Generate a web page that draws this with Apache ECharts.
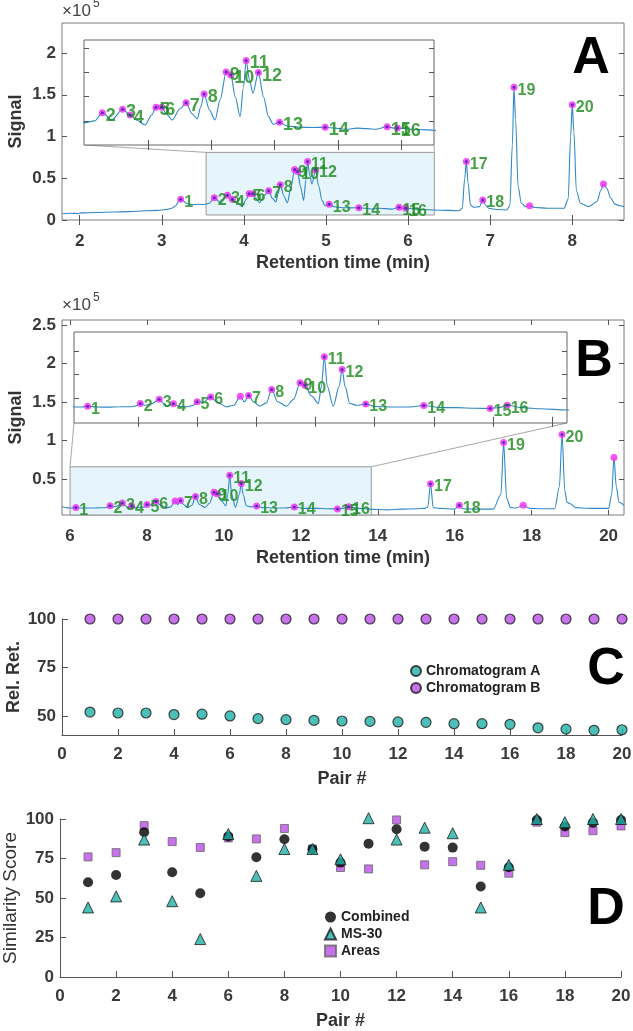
<!DOCTYPE html>
<html><head><meta charset="utf-8">
<script src="https://cdn.jsdelivr.net/npm/echarts@6/dist/echarts.min.js"></script>
<style>html,body{margin:0;padding:0;background:#fff}#c{width:633px;height:1031px}</style>
</head><body><div id="c"></div><script>
// ---------- DATA ----------
const timeA = [1.79,1.9,1.98,2.02,2.2,2.4,2.6,2.8,2.95,3.05,3.12,3.17,3.21,3.23,3.26,3.3,3.36,3.45,3.503,3.58,3.64,3.714,3.80,3.86,3.91,3.978,4.03,4.064,4.11,4.144,4.19,4.254,4.302,4.347,4.39,4.418,4.444,4.486,4.53,4.57,4.618,4.655,4.69,4.728,4.755,4.776,4.802,4.829,4.873,4.913,4.952,4.99,5.04,5.098,5.203,5.3,5.40,5.48,5.57,5.65,5.73,5.8,5.89,5.94,5.99,6.1,6.3,6.5,6.62,6.66,6.69,6.71,6.73,6.76,6.8,6.87,6.91,6.95,6.98,7.1,7.2,7.24,7.27,7.29,7.31,7.34,7.38,7.43,7.48,7.55,7.7,7.9,7.95,7.98,8.0,8.02,8.05,8.1,8.2,8.3,8.35,8.38,8.42,8.47,8.52,8.58,8.63];
const sigA = [0.075,0.08,0.078,0.085,0.09,0.095,0.10,0.11,0.115,0.125,0.14,0.17,0.23,0.25,0.23,0.2,0.185,0.188,0.185,0.2,0.268,0.207,0.296,0.249,0.207,0.166,0.249,0.313,0.313,0.26,0.207,0.30,0.351,0.26,0.216,0.32,0.423,0.29,0.207,0.373,0.604,0.58,0.40,0.235,0.48,0.70,0.54,0.43,0.60,0.40,0.235,0.172,0.188,0.158,0.147,0.145,0.147,0.14,0.13,0.14,0.136,0.13,0.152,0.14,0.14,0.13,0.12,0.115,0.11,0.14,0.5,0.70,0.45,0.18,0.15,0.16,0.24,0.17,0.14,0.125,0.12,0.17,0.9,1.59,1.2,0.4,0.2,0.16,0.17,0.15,0.14,0.14,0.25,1.0,1.38,1.05,0.35,0.2,0.16,0.22,0.36,0.43,0.38,0.26,0.19,0.17,0.16];
const peakNumA = [1,2,3,4,5,6,7,8,9,10,11,12,13,14,15,16,17,18,19,20];
const peakTimeA = [3.23,3.64,3.80,3.86,4.064,4.11,4.302,4.444,4.618,4.655,4.776,4.873,5.04,5.40,5.89,5.97,6.71,6.91,7.29,8.0];
const peakSigA = [0.25,0.268,0.296,0.249,0.313,0.313,0.351,0.423,0.604,0.58,0.70,0.60,0.188,0.147,0.152,0.14,0.70,0.24,1.59,1.38];
const extraTimeA = [7.48,8.38];
const extraSigA = [0.17,0.43];

const timeB = [5.79,5.94,6.05,6.15,6.3,6.5,6.7,6.9,6.97,7.04,7.12,7.22,7.36,7.45,7.49,7.6,7.7,7.85,7.93,8.0,8.1,8.23,8.33,8.5,8.62,8.73,8.8,8.87,8.95,9.06,9.17,9.26,9.36,9.51,9.63,9.74,9.82,9.93,10.05,10.1,10.15,10.2,10.3,10.4,10.45,10.5,10.58,10.7,10.85,11.0,11.3,11.6,11.83,12.1,12.4,12.7,12.95,13.1,13.24,13.5,13.8,14.24,14.6,15.0,15.22,15.3,15.37,15.44,15.6,16.0,16.12,16.2,16.6,17.0,17.2,17.27,17.35,17.45,17.6,17.78,17.95,18.3,18.6,18.72,18.79,18.86,18.92,19.0,19.14,19.5,20.0,20.08,20.14,20.2,20.27,20.4];
const sigB = [0.14,0.126,0.125,0.132,0.125,0.124,0.127,0.128,0.135,0.155,0.14,0.15,0.19,0.15,0.132,0.152,0.13,0.128,0.14,0.169,0.165,0.21,0.169,0.126,0.14,0.217,0.169,0.223,0.17,0.132,0.16,0.274,0.17,0.132,0.19,0.33,0.31,0.22,0.155,0.3,0.55,0.3,0.132,0.3,0.443,0.3,0.155,0.14,0.15,0.13,0.125,0.125,0.138,0.12,0.12,0.115,0.113,0.12,0.14,0.12,0.11,0.1,0.11,0.115,0.12,0.14,0.44,0.13,0.12,0.11,0.16,0.115,0.11,0.11,0.3,0.975,0.25,0.13,0.125,0.16,0.12,0.115,0.115,0.4,1.08,0.35,0.2,0.18,0.13,0.12,0.12,0.3,0.78,0.4,0.2,0.16];
const peakNumB = [1,2,3,4,5,6,7,8,9,10,11,12,13,14,15,16,17,18,19,20];
const peakTimeB = [6.15,7.04,7.36,7.6,8.0,8.23,8.87,9.26,9.74,9.82,10.15,10.45,10.85,11.83,12.95,13.24,15.37,16.12,17.27,18.79];
const peakSigB = [0.132,0.155,0.19,0.152,0.169,0.21,0.223,0.274,0.33,0.31,0.55,0.443,0.15,0.138,0.113,0.14,0.44,0.16,0.975,1.08];
const extraTimeB = [8.73,17.78,20.14];
const extraSigB = [0.217,0.16,0.78];

const pairs = [1,2,3,4,5,6,7,8,9,10,11,12,13,14,15,16,17,18,19,20];
const relRetA = [52.2,51.7,51.7,50.9,51.1,50.2,48.8,48.3,47.9,47.6,47.4,47.1,46.9,46.2,46.2,45.9,44.1,43.4,42.8,43.1];
const relRetB = [100,100,100,100,100,100,100,100,100,100,100,100,100,100,100,100,100,100,100,100];
const combined = [60,64.6,91.6,66.3,53,89,75.8,87.2,80.8,72.4,84.4,93.5,82.5,81.9,57.3,69.5,99.4,95.2,97.7,99.4];
const ms30 = [44,51,87,48,24,90.5,64,81,81,74.5,100.5,87,94.5,91,44,71,100,98,100,100];
const areas = [76,78.7,95.8,85.7,82,88,87.4,94,81,69.3,68.4,99.4,71,73,70.7,65.7,98,91.4,92.6,95.6];

const tickAx = [2,3,4,5,6,7,8];
const tickAy = [0,0.5,1,1.5,2];
const tickBx = [6,8,10,12,14,16,18,20];
const tickBy = [0.5,1,1.5,2,2.5];
const tickInAx = [4,4.5,5,5.5,6];
const tickInAy = [0.2,0.4,0.6,0.8];
const tickInBx = [7,8,9,10,11,12,13,14];
const tickInBy = [0.2,0.4,0.6];
const tickRel = [50,75,100];

const rangeAx = [1.785,8.63], rangeAy = [0,2.36];
const inAx = [3.495,6.26], inAy = [0,0.87];
const rectA = [3.54,0.06,6.32,0.81];
const rangeBx = [5.79,20.4], rangeBy = [0.034,2.565];
const inBx = [5.92,14.25], inBy = [-0.01,0.76];
const rectB = [6.0,0.034,13.83,0.66];

// ---------- STYLE ----------
const FONT = '"Liberation Sans", Arial, sans-serif';
const TICKC = '#3a3a3a';
const GREEN = '#1a8a1a';
const CURVE = '#3088c8';
const MAG = '#f02cf0';
const INNER = '#4020b0';

function pts(x, y) { return x.map((t, i) => [t, y[i]]); }
function lbl(num, x, y) { return x.map((t, i) => ({ value: [t, y[i]], name: String(num[i]) })); }

function xAx(grid, r, ticks, o) {
  return Object.assign({
    type: 'value', gridIndex: grid, min: r[0], max: r[1], position: 'bottom', nameMoveOverlap: false,
    axisLine: { show: false }, splitLine: { show: false },
    axisTick: { show: true, inside: true, length: 5, customValues: ticks, lineStyle: { color: '#555' } },
    axisLabel: { show: false, customValues: ticks }
  }, o || {});
}
function yAx(grid, r, ticks, o) {
  return Object.assign({
    type: 'value', gridIndex: grid, min: r[0], max: r[1], position: 'left', nameMoveOverlap: false,
    axisLine: { show: false }, splitLine: { show: false },
    axisTick: { show: true, inside: true, length: 5, customValues: ticks, lineStyle: { color: '#555' } },
    axisLabel: { show: false, customValues: ticks }
  }, o || {});
}
const tickLab = (ticks, margin) => {
  const o = { show: true, margin: margin, fontSize: 17, fontWeight: 'bold', color: TICKC, fontFamily: FONT };
  if (ticks) o.customValues = ticks;
  return o;
};
const nameStyle = { fontSize: 18, fontWeight: 'bold', color: '#333', fontFamily: FONT };

const G = { show: true, borderColor: '#7a7a7a', borderWidth: 1, backgroundColor: '#fff', containLabel: false, outerBoundsMode: 'none' };
const NB = { containLabel: false, outerBoundsMode: 'none' };
const grids = [
  Object.assign({ left: 62, width: 562, top: 23, height: 197 }, G),
  Object.assign({ left: 84, width: 350, top: 40, height: 105, z: 5 }, G, { borderColor: '#666' }),
  Object.assign({ left: 62, width: 562, top: 320, height: 195 }, G),
  Object.assign({ left: 74, width: 493, top: 332, height: 91, z: 5 }, G, { borderColor: '#666' }),
  Object.assign({ left: 62, width: 560, top: 619, height: 116 }, NB),
  Object.assign({ left: 60, width: 561, top: 819, height: 158 }, NB)
];

const xAxes = [
  xAx(0, rangeAx, tickAx, { axisLabel: tickLab(tickAx, 13), name: 'Retention time (min)', nameLocation: 'middle', nameGap: 34, nameTextStyle: nameStyle }),
  xAx(0, rangeAx, tickAx, { position: 'top' }),
  xAx(1, inAx, tickInAx, { z: 6 }),
  xAx(1, inAx, tickInAx, { position: 'top', z: 6 }),
  xAx(2, rangeBx, tickBx, { axisLabel: tickLab(tickBx, 13), name: 'Retention time (min)', nameLocation: 'middle', nameGap: 34, nameTextStyle: nameStyle }),
  xAx(2, rangeBx, tickBx, { position: 'top' }),
  xAx(3, inBx, tickInBx, { z: 6 }),
  xAx(3, inBx, tickInBx, { position: 'top', z: 6 }),
  { type: 'value', gridIndex: 4, min: 0, max: 20, interval: 2, splitLine: { show: false }, nameMoveOverlap: false,
    axisLine: { show: true, lineStyle: { color: '#555' } },
    axisTick: { show: true, inside: true, length: 6, lineStyle: { color: '#555' } },
    axisLabel: tickLab(null, 11), name: 'Pair #', nameLocation: 'middle', nameGap: 35, nameTextStyle: nameStyle },
  { type: 'value', gridIndex: 5, min: 0, max: 20, interval: 2, splitLine: { show: false }, nameMoveOverlap: false,
    axisLine: { show: true, lineStyle: { color: '#555' } },
    axisTick: { show: true, inside: true, length: 6, lineStyle: { color: '#555' } },
    axisLabel: tickLab(null, 11), name: 'Pair #', nameLocation: 'middle', nameGap: 35, nameTextStyle: nameStyle }
];

const yAxes = [
  yAx(0, rangeAy, tickAy, { axisLabel: tickLab(tickAy, 6), name: 'Signal', nameLocation: 'middle', nameGap: 37, nameTextStyle: nameStyle }),
  yAx(0, rangeAy, tickAy, { position: 'right' }),
  yAx(1, inAy, tickInAy, { z: 6 }),
  yAx(1, inAy, tickInAy, { position: 'right', z: 6 }),
  yAx(2, rangeBy, tickBy, { axisLabel: tickLab(tickBy, 6), name: 'Signal', nameLocation: 'middle', nameGap: 37, nameTextStyle: nameStyle }),
  yAx(2, rangeBy, tickBy, { position: 'right' }),
  yAx(3, inBy, tickInBy, { z: 6 }),
  yAx(3, inBy, tickInBy, { position: 'right', z: 6 }),
  { type: 'value', gridIndex: 4, min: 40.4, max: 100, splitLine: { show: false }, nameMoveOverlap: false,
    axisLine: { show: true, lineStyle: { color: '#555' } },
    axisTick: { show: true, inside: true, length: 6, customValues: tickRel, lineStyle: { color: '#555' } },
    axisLabel: tickLab(tickRel, 6), name: 'Rel. Ret.', nameLocation: 'middle', nameGap: 39, nameTextStyle: nameStyle },
  { type: 'value', gridIndex: 5, min: 0, max: 100, interval: 25, splitLine: { show: false }, nameMoveOverlap: false,
    axisLine: { show: true, lineStyle: { color: '#555' } },
    axisTick: { show: true, inside: true, length: 6, lineStyle: { color: '#555' } },
    axisLabel: tickLab(null, 6), name: 'Similarity Score', nameLocation: 'middle', nameGap: 40,
    nameTextStyle: { fontSize: 19, fontWeight: 'normal', color: '#333', fontFamily: FONT } }
];

function chromSeries(xi, yi, tx, sy, num, ptx, psy, etx, esy, z, fs) {
  const lab = { show: true, formatter: '{b}', position: 'right', distance: 0, offset: [0, 3], color: GREEN, fontSize: fs, fontWeight: 'bold', fontFamily: FONT };
  return [
    { type: 'line', xAxisIndex: xi, yAxisIndex: yi, data: pts(tx, sy), showSymbol: false, symbol: 'none', smooth: 0.3, smoothMonotone: 'x',
      lineStyle: { color: CURVE, width: 1.1 }, z: z, silent: true, clip: true },
    { type: 'scatter', xAxisIndex: xi, yAxisIndex: yi, data: lbl(num, ptx, psy), symbolSize: 7, itemStyle: { color: MAG }, label: lab, z: z + 1, clip: true },
    { type: 'scatter', xAxisIndex: xi, yAxisIndex: yi, data: pts(ptx, psy), symbolSize: 3, itemStyle: { color: INNER }, z: z + 2, clip: true },
    { type: 'scatter', xAxisIndex: xi, yAxisIndex: yi, data: pts(etx, esy), symbolSize: 7, itemStyle: { color: MAG }, z: z + 1, clip: true }
  ];
}
function rectSeries(xi, yi, r) {
  return { type: 'line', xAxisIndex: xi, yAxisIndex: yi, data: [[r[0], r[1]]], symbol: 'none', lineStyle: { opacity: 0 }, z: 1, silent: true,
    markArea: { silent: true, label: { show: false }, itemStyle: { color: '#e6f4fb', borderColor: '#999', borderWidth: 1 },
      data: [[{ coord: [r[0], r[1]] }, { coord: [r[2], r[3]] }]] } };
}

const series = [].concat(
  [rectSeries(0, 0, rectA)],
  chromSeries(0, 0, timeA, sigA, peakNumA, peakTimeA, peakSigA, extraTimeA, extraSigA, 2, 16),
  chromSeries(2, 2, timeA, sigA, peakNumA, peakTimeA, peakSigA, extraTimeA, extraSigA, 7, 18),
  [rectSeries(4, 4, rectB)],
  chromSeries(4, 4, timeB, sigB, peakNumB, peakTimeB, peakSigB, extraTimeB, extraSigB, 2, 16),
  chromSeries(6, 6, timeB, sigB, peakNumB, peakTimeB, peakSigB, extraTimeB, extraSigB, 7, 16),
  [
    { name: 'Chromatogram A', type: 'scatter', xAxisIndex: 8, yAxisIndex: 8, data: pts(pairs, relRetA), symbol: 'circle', symbolSize: 10, clip: false,
      itemStyle: { color: '#1fb0a6', borderColor: '#1a1a1a', borderWidth: 1.2 } },
    { name: 'Chromatogram B', type: 'scatter', xAxisIndex: 8, yAxisIndex: 8, data: pts(pairs, relRetB), symbol: 'circle', symbolSize: 10, clip: false,
      itemStyle: { color: '#b94ee6', borderColor: '#1a1a1a', borderWidth: 1.2 } },
    { name: 'Areas', type: 'scatter', xAxisIndex: 9, yAxisIndex: 9, data: pts(pairs, areas), symbol: 'rect', symbolSize: 8, clip: false, z: 2,
      itemStyle: { color: '#b94ee6', borderColor: '#666', borderWidth: 1 } },
    { name: 'Combined', type: 'scatter', xAxisIndex: 9, yAxisIndex: 9, data: pts(pairs, combined), symbol: 'circle', symbolSize: 10, clip: false, z: 3,
      itemStyle: { color: '#000' } },
    { name: 'MS-30', type: 'scatter', xAxisIndex: 9, yAxisIndex: 9, data: pts(pairs, ms30), symbol: 'triangle', symbolSize: 11, clip: false, z: 4,
      itemStyle: { color: '#1fb0a6', borderColor: '#1a1a1a', borderWidth: 1 } }
  ]
);

const chart = echarts.init(document.getElementById('c'), null, { renderer: 'canvas' });
chart.setOption({
  animation: false,
  backgroundColor: '#fff',
  grid: grids,
  xAxis: xAxes,
  yAxis: yAxes,
  series: series,
  legend: [
    { data: ['Chromatogram A', 'Chromatogram B'], orient: 'vertical', left: 405, top: 659, itemWidth: 10, itemHeight: 10, itemGap: 3,
      selectedMode: false, textStyle: { fontSize: 14, fontWeight: 'bold', color: '#222', fontFamily: FONT } },
    { data: ['Combined', 'MS-30', 'Areas'], orient: 'vertical', left: 319, top: 905, itemWidth: 11, itemHeight: 11, itemGap: 3,
      selectedMode: false, textStyle: { fontSize: 14, fontWeight: 'bold', color: '#222', fontFamily: FONT } }
  ]
});

// annotations: panel letters, scale factors, zoom connectors
function P(xi, yi, v) { return chart.convertToPixel({ xAxisIndex: xi, yAxisIndex: yi }, v); }
const g = [];
[['A', 591, 59], ['B', 594, 362], ['C', 606, 670], ['D', 606, 910]].forEach(([t, x, y]) => {
  g.push({ type: 'text', x: x, y: y, z: 20, style: { text: t, font: 'bold 52px ' + FONT, fill: '#000', align: 'center', verticalAlign: 'middle' } });
});
[[62, 11], [62, 305]].forEach(([x, y]) => {
  g.push({ type: 'text', x: x, y: y, z: 20, style: { text: '×10', font: '17px ' + FONT, fill: '#444', align: 'left', verticalAlign: 'middle' } });
  g.push({ type: 'text', x: x + 31, y: y - 7, z: 20, style: { text: '5', font: '12px ' + FONT, fill: '#444', align: 'left', verticalAlign: 'middle' } });
});
function conn(a, b) { g.push({ type: 'line', z: 3, shape: { x1: a[0], y1: a[1], x2: b[0], y2: b[1] }, style: { stroke: '#a8a8a8', lineWidth: 1 } }); }
conn(P(2, 2, [inAx[0], inAy[0]]), P(0, 0, [rectA[0], rectA[3]]));
conn(P(2, 2, [inAx[1], inAy[0]]), P(0, 0, [rectA[2], rectA[3]]));
conn(P(6, 6, [inBx[0], inBy[0]]), P(4, 4, [rectB[0], rectB[3]]));
conn(P(6, 6, [inBx[1], inBy[0]]), P(4, 4, [rectB[2], rectB[3]]));
chart.setOption({ graphic: g });
</script></body></html>
